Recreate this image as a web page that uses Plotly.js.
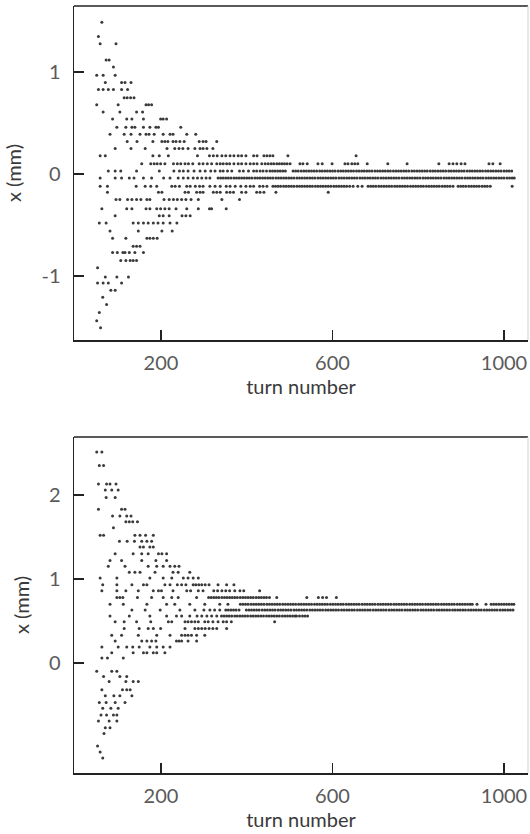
<!DOCTYPE html>
<html>
<head>
<meta charset="utf-8">
<script src="https://cdn.plot.ly/plotly-3.0.1.min.js"></script>
<style>
html,body{margin:0;padding:0;background:#fff;}
#chart{width:530px;height:834px;}
</style>
</head>
<body>
<div id="chart"></div>
<script>
// ---- tick values ----
const xTickVals = [200, 600, 1000];
const topYTickVals = [-1, 0, 1];
const topYTickText = ['-1', '0', '1'];
const botYTickVals = [0, 1, 2];
const botYTickText = ['0', '1', '2'];

// ---- upper panel: quantised x (mm) levels and the turn numbers recorded at each level ----
const topLevels = [1.49, 1.35, 1.28, 1.12, 1.05, 0.97, 0.90, 0.83, 0.75, 0.68, 0.61, 0.54, 0.46, 0.39, 0.32, 0.25, 0.18, 0.10, 0.03,
  -0.04, -0.12, -0.18, -0.25, -0.34, -0.41, -0.48, -0.56, -0.63, -0.71, -0.77, -0.85, -0.92, -1.01, -1.07, -1.14, -1.21, -1.28, -1.36, -1.44, -1.51];
const topTurns = [
  [62],
  [54],
  [58, 95],
  [72, 79],
  [89],
  [50, 65, 93],
  [70, 108, 116, 130],
  [54, 65, 77, 89, 108, 122],
  [114, 121, 129, 137],
  [50, 100, 165, 171, 178],
  [65, 104, 143, 157],
  [87, 120, 132, 159, 199, 205, 213],
  [97, 118, 132, 139, 159, 174, 188, 194, 246],
  [81, 114, 130, 151, 165, 172, 184, 205, 221, 228, 260, 281],
  [121, 144, 181, 202, 209, 216, 228, 235, 244, 254, 289, 298, 305, 330],
  [93, 130, 163, 214, 232, 242, 251, 263, 279, 291, 298, 307, 321],
  [58, 70, 181, 196, 217, 285, 313, 322, 331, 342, 351, 361, 370, 380, 388, 398, 416, 424, 440, 447, 454, 461, 496, 655],
  [155, 176, 184, 191, 199, 209, 229, 238, 246, 256, 264, 274, 289, 298, 308, 318, 330, 338, 345, 353, 360, 370, 380, 388, 398, 408, 416, 424,
   435, 443, 450, 457, 463, 470, 476, 482, 488, 494, 501, 524, 531, 541, 566, 576, 599, 629, 636, 645, 652, 659, 681, 729, 774, 848, 872, 881,
   890, 900, 909, 965, 974, 991],
  [77, 93, 106, 143, 196, 230, 243, 252, 263, 277, 291, 303, 316, 326, 338, 345, 355, 365, 383, 392, 404, 416, 423, 431, 438, 446, 454,
   460, 466, 472, 478, 484, 490, 508, 514, 520, 527, 533, 539, 545, 551, 557, 563, 570, 576, 582, 588, 594, 600, 606, 613, 619, 625, 631,
   637, 643, 649, 656, 662, 668, 674, 680, 686, 692, 699, 705, 711, 717, 723, 729, 735, 742, 748, 754, 760, 766, 772, 778, 785, 791, 797,
   803, 809, 815, 821, 828, 834, 840, 846, 852, 858, 864, 871, 877, 883, 889, 895, 901, 907, 914, 920, 926, 932, 938, 944, 950, 957, 963,
   969, 975, 981, 987, 993, 1000, 1006, 1012, 1018],
  [58, 93, 108, 126, 137, 159, 178, 206, 221, 240, 252, 263, 275, 285, 295, 305, 314, 333, 339, 345, 351, 357, 363, 370, 376, 382, 388,
   394, 400, 406, 412, 419, 425, 431, 437, 443, 449, 455, 461, 468, 474, 480, 486, 492, 498, 504, 510, 517, 523, 529, 535, 541, 547, 553,
   559, 566, 572, 578, 584, 590, 596, 602, 608, 615, 621, 627, 633, 639, 645, 651, 657, 664, 670, 676, 682, 688, 694, 700, 706, 713, 719,
   725, 731, 737, 743, 749, 755, 762, 768, 774, 780, 786, 792, 798, 804, 811, 817, 823, 829, 835, 841, 847, 853, 860, 866, 872, 878, 884,
   890, 896, 902, 909, 915, 921, 927, 933, 939, 945, 951, 958, 964, 970, 976, 982, 988, 994, 1000, 1007, 1013, 1019, 1024],
  [58, 75, 142, 163, 176, 190, 225, 233, 243, 260, 268, 280, 290, 298, 314, 326, 338, 352, 361, 373, 386, 398, 408, 416, 430, 438, 447,
   461, 467, 473, 479, 486, 492, 498, 504, 510, 517, 523, 529, 535, 541, 547, 553, 560, 566, 572, 578, 584, 590, 596, 603, 609, 615, 621,
   627, 633, 640, 648, 659, 669, 683, 689, 695, 701, 708, 714, 720, 726, 732, 738, 745, 751, 757, 763, 769, 775, 782, 788, 794, 800, 806,
   812, 819, 825, 831, 837, 843, 849, 856, 862, 868, 874, 881, 893, 899, 905, 911, 918, 924, 930, 936, 942, 949, 955, 961, 968, 1019],
  [75, 194, 202, 256, 264, 283, 291, 298, 322, 330, 338, 353, 361, 369, 388, 398, 423, 431, 440, 468, 590],
  [95, 104, 122, 132, 143, 153, 167, 174, 207, 219, 229, 238, 248, 258, 270, 287, 342, 383],
  [62, 120, 132, 165, 174, 190, 199, 209, 219, 235, 260, 287, 313, 318, 352],
  [93, 196, 205, 219, 249, 258, 268],
  [56, 72, 135, 147, 159, 170, 182, 193, 205, 221, 237],
  [81, 147, 202, 226],
  [87, 118, 167, 174, 182, 191],
  [135, 143, 151],
  [87, 98, 111, 116, 126, 139, 159],
  [106, 118, 128, 135, 143],
  [52],
  [70, 97, 124],
  [52, 65, 77, 108],
  [83, 93],
  [64],
  [73],
  [56],
  [50],
  [59]
];

// ---- lower panel ----
const botLevels = [2.51, 2.35, 2.13, 2.06, 1.97, 1.83, 1.75, 1.68, 1.61, 1.52, 1.45, 1.38, 1.30, 1.22, 1.15, 1.08, 1.01, 0.93, 0.86, 0.78,
  0.70, 0.63, 0.56, 0.49, 0.41, 0.33, 0.26, 0.19, 0.12, 0.06, -0.10, -0.16, -0.22, -0.32, -0.39, -0.47, -0.54, -0.62, -0.69, -0.77, -0.84,
  -0.99, -1.06, -1.13];
const botTurns = [
  [50, 62],
  [56, 66],
  [54, 73, 81, 95],
  [70, 85, 100],
  [72, 93],
  [54, 108, 116],
  [87, 104, 120, 130],
  [118, 126, 134, 145],
  [89],
  [58, 66, 139, 151, 164, 182],
  [103, 121, 138, 155, 167, 178],
  [151, 159, 174, 182],
  [93, 135, 155, 170, 194, 202, 213],
  [81, 108, 155, 188, 213],
  [77, 116, 170, 190, 205, 221, 232, 242],
  [126, 139, 151, 186, 228, 240, 267],
  [58, 97, 174, 205, 225, 252, 263, 275, 287],
  [64, 97, 132, 159, 167, 209, 221, 238, 248, 258, 275, 281, 288, 295, 303, 312, 333, 353, 370],
  [62, 97, 118, 147, 182, 194, 201, 228, 260, 269, 287, 298, 323, 332, 342, 351, 360, 372, 384, 393, 430],
  [97, 104, 111, 145, 178, 205, 225, 240, 283, 311, 317, 323, 329, 335, 342, 348, 354, 360, 366, 372, 378, 385, 391, 397, 403, 409, 415,
   422, 428, 434, 440, 446, 453, 470, 540, 567, 577, 586, 609],
  [81, 112, 167, 213, 232, 267, 302, 337, 356, 385, 391, 397, 403, 410, 416, 422, 428, 434, 440, 447, 453, 459, 465, 471, 477, 484, 490,
   496, 502, 508, 514, 521, 527, 533, 539, 545, 551, 558, 564, 570, 576, 582, 588, 595, 601, 607, 613, 619, 625, 632, 638, 644, 650, 656,
   662, 669, 675, 681, 687, 693, 699, 706, 712, 718, 724, 730, 736, 743, 749, 755, 761, 767, 773, 780, 786, 792, 798, 804, 810, 817, 823,
   829, 835, 841, 847, 854, 860, 866, 872, 878, 884, 891, 897, 903, 909, 915, 921, 926, 937, 958, 970, 976, 982, 988, 994, 1000, 1006,
   1012, 1018, 1023],
  [132, 163, 198, 244, 279, 300, 314, 325, 337, 351, 357, 363, 369, 375, 382, 399, 405, 411, 417, 423, 429, 436, 442, 448, 454, 460, 466,
   473, 479, 485, 491, 497, 503, 510, 516, 522, 528, 534, 540, 547, 553, 559, 565, 571, 577, 584, 590, 596, 602, 608, 614, 621, 627, 633,
   639, 645, 651, 658, 664, 670, 676, 682, 688, 695, 701, 707, 713, 719, 725, 732, 738, 744, 750, 756, 762, 769, 775, 781, 787, 793, 799,
   806, 812, 818, 824, 830, 836, 843, 849, 855, 861, 867, 873, 880, 886, 892, 898, 904, 910, 917, 923, 929, 935, 941, 947, 954, 960, 966,
   972, 978, 984, 991, 997, 1003, 1009, 1015, 1021],
  [81, 126, 174, 213, 236, 248, 267, 284, 295, 307, 318, 330, 341, 347, 353, 359, 365, 372, 378, 384, 390, 396, 402, 409, 415, 421, 427,
   433, 439, 446, 452, 458, 464, 470, 476, 483, 489, 495, 501, 507, 513, 516, 523, 530, 536, 542],
  [93, 114, 143, 176, 217, 225, 256, 263, 271, 279, 287, 302, 310, 321, 333, 345, 353, 364, 465],
  [114, 149, 170, 182, 199, 256, 279, 287, 295, 303, 312, 321, 330, 353],
  [85, 108, 147, 190, 221, 248, 256, 263, 271, 283, 302],
  [93, 155, 167, 178, 188, 236, 242, 248, 263, 283],
  [62, 100, 120, 134, 149, 174, 190, 205, 221],
  [85, 135, 159, 167, 182, 190, 209],
  [62, 75, 112],
  [50, 85, 97],
  [66, 104, 120],
  [79, 118, 135, 147],
  [62, 110, 120, 128],
  [70, 90, 104, 132],
  [56, 72, 93, 116],
  [64, 83, 100],
  [60, 73, 89, 97],
  [54, 79, 97],
  [70, 81],
  [67],
  [52],
  [58],
  [64]
];

function flatten(levels, turns) {
  const xs = [], ys = [];
  levels.forEach((v, i) => turns[i].forEach(t => { xs.push(t); ys.push(v); }));
  return { xs, ys };
}
const topPts = flatten(topLevels, topTurns);
const botPts = flatten(botLevels, botTurns);

const markerStyle = { size: 3, color: '#3a3a3a', line: { width: 0 } };
const traces = [
  { type: 'scatter', mode: 'markers', x: topPts.xs, y: topPts.ys, xaxis: 'x', yaxis: 'y', marker: markerStyle, hoverinfo: 'x+y' },
  { type: 'scatter', mode: 'markers', x: botPts.xs, y: botPts.ys, xaxis: 'x2', yaxis: 'y2', marker: markerStyle, hoverinfo: 'x+y' }
];

const FONT = 'Lato, "Liberation Sans", sans-serif';
const tickFont = { family: FONT, size: 20, color: '#5a5a5a' };
const titleFont = { family: FONT, size: 20, color: '#3a3a3a' };

function xAxis(anchor) {
  return {
    domain: [0, 1], anchor: anchor, range: [-3, 1056],
    tickmode: 'array', tickvals: xTickVals, ticktext: xTickVals.map(String),
    ticks: 'inside', ticklen: 10, tickwidth: 1.5, tickcolor: '#222',
    showline: true, linecolor: '#222', linewidth: 1.5,
    showgrid: false, zeroline: false, tickfont: tickFont, ticklabelstandoff: 4,
    title: { text: 'turn number', font: titleFont, standoff: 6 }
  };
}
function yAxis(anchor, domain, range, vals, text) {
  return {
    domain: domain, anchor: anchor, range: range,
    tickmode: 'array', tickvals: vals, ticktext: text,
    ticks: 'inside', ticklen: 10, tickwidth: 1.5, tickcolor: '#222',
    showline: true, linecolor: '#222', linewidth: 1.5,
    showgrid: false, zeroline: false, tickfont: tickFont, ticklabelstandoff: 8,
    title: { text: 'x (mm)', font: titleFont, standoff: 14 }
  };
}

const layout = {
  width: 530, height: 834,
  margin: { l: 74, r: 2, t: 6, b: 61 },
  paper_bgcolor: '#fff', plot_bgcolor: '#fff',
  showlegend: false,
  font: { family: FONT, color: '#333' },
  xaxis: xAxis('y'),
  yaxis: yAxis('x', [0.5645, 1], [-1.63, 1.65], topYTickVals, topYTickText),
  xaxis2: xAxis('y2'),
  yaxis2: yAxis('x2', [0, 0.4381], [-1.31, 2.69], botYTickVals, botYTickText),
  shapes: [
    { type: 'line', xref: 'x domain', yref: 'y domain', x0: 0, x1: 1, y0: 1, y1: 1, line: { color: '#222', width: 1.5 } },
    { type: 'line', xref: 'x domain', yref: 'y domain', x0: 1, x1: 1, y0: 0, y1: 1, line: { color: '#d0d0d0', width: 1 } },
    { type: 'line', xref: 'x2 domain', yref: 'y2 domain', x0: 0, x1: 1, y0: 1, y1: 1, line: { color: '#222', width: 1.5 } },
    { type: 'line', xref: 'x2 domain', yref: 'y2 domain', x0: 1, x1: 1, y0: 0, y1: 1, line: { color: '#d0d0d0', width: 1 } }
  ]
};

Plotly.newPlot('chart', traces, layout, { displayModeBar: false, staticPlot: true });
</script>
</body>
</html>
